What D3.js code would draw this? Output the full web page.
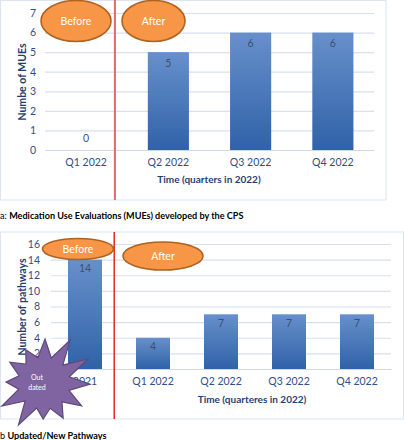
<!DOCTYPE html>
<html><head><meta charset="utf-8">
<script src="https://cdn.jsdelivr.net/npm/d3@7"></script>
<style>
html,body{margin:0;padding:0;background:#fff;}
svg{display:block;font-family:Lato,"Open Sans",sans-serif;}
</style></head>
<body><svg id="c" width="404" height="440"></svg>
<script>
// ---- data ----
const catsA = ["Q1 2022","Q2 2022","Q3 2022","Q4 2022"];
const valsA = [0,5,6,6];
const ticksA = [0,1,2,3,4,5,6,7];
const catsB = ["2021","Q1 2022","Q2 2022","Q3 2022","Q4 2022"];
const valsB = [14,4,7,7,7];
const ticksB = [0,2,4,6,8,10,12,14,16];
const captionA = ["a: ","Medication Use Evaluations (MUEs) developed by the CPS"];
const captionB = ["b ","Updated/New Pathways"];

const svg = d3.select("#c");
const defs = svg.append("defs");
const grad = defs.append("linearGradient").attr("id","barg").attr("x1",0).attr("y1",0).attr("x2",0).attr("y2",1);
grad.append("stop").attr("offset","0%").attr("stop-color","#6790cb");
grad.append("stop").attr("offset","100%").attr("stop-color","#3062a8");

const tickCol = "#2f4f86", titleCol = "#1f3f73", gridCol = "#d6e0ef", lblCol = "#3e4f6e";

function chart(o){
  const g = svg.append("g");
  g.append("rect").attr("x",o.panel[0]).attr("y",o.panel[1]).attr("width",o.panel[2]).attr("height",o.panel[3])
    .attr("fill","#fff").attr("stroke","#dbe4f1").attr("stroke-width",1);
  const x = d3.scaleBand().domain(o.cats).range(o.xr).paddingInner(0.5).paddingOuter(0.25);
  const y = d3.scaleLinear().domain([0,o.max]).range(o.yr);
  const ya = g.append("g").attr("transform",`translate(${o.xr[0]},0)`)
    .call(d3.axisLeft(y).tickValues(o.ticks).tickFormat(d3.format("d")).tickSize(-(o.xr[1]-o.xr[0])).tickPadding(o.tp));
  ya.select(".domain").remove();
  ya.selectAll("line").attr("stroke",gridCol).attr("stroke-width",1.2);
  ya.selectAll("text").attr("fill",tickCol).attr("font-size",10.5).attr("font-family","Lato,sans-serif");
  const xa = g.append("g").attr("transform",`translate(0,${o.yr[0]})`).call(d3.axisBottom(x).tickSize(0).tickPadding(9));
  xa.select(".domain").attr("stroke","#d0d8e6");
  xa.selectAll("text").attr("fill",tickCol).attr("font-size",10.5).attr("font-family","Lato,sans-serif");
  g.selectAll(".bar").data(o.vals).join("rect")
    .attr("x",(d,i)=>x(o.cats[i])).attr("width",x.bandwidth())
    .attr("y",d=>y(d)).attr("height",d=>y(0)-y(d)).attr("fill","url(#barg)");
  g.selectAll(".lbl").data(o.vals).join("text")
    .attr("x",(d,i)=>x(o.cats[i])+x.bandwidth()/2)
    .attr("y",d=> d===0 ? y(0)-12 : y(d)+o.lo)
    .attr("dy","0.35em").attr("text-anchor","middle").attr("font-size",10.5).attr("fill",lblCol).text(d=>d);
  g.append("text").attr("transform",`translate(${o.ytx},${o.yty}) rotate(-90)`).attr("text-anchor","middle")
    .attr("dy","0.35em").attr("font-size",o.yfs).attr("font-weight","bold").attr("fill",titleCol).text(o.ytitle);
  g.append("text").attr("x",o.xtx).attr("y",o.xty).attr("text-anchor","middle").attr("dy","0.35em")
    .attr("font-size",10).attr("font-weight","bold").attr("fill",titleCol).text(o.xtitle);
  return {g,x,y};
}

function ellipse(g,cx,cy,rx,ry,txt){
  g.append("ellipse").attr("cx",cx).attr("cy",cy).attr("rx",rx).attr("ry",ry)
    .attr("fill","#f79646").attr("stroke","#b0621e").attr("stroke-width",1.6);
  g.append("text").attr("x",cx).attr("y",cy).attr("dy","0.35em").attr("text-anchor","middle")
    .attr("font-size",10.5).attr("fill","#fff").text(txt);
}

// ---- chart a ----
const A = chart({panel:[0.5,0.5,385.5,199.5],cats:catsA,vals:valsA,ticks:ticksA,max:7,xr:[45,374],yr:[150,13],tp:9,lo:11,
  ytitle:"Numbe of MUEs",ytx:22,yty:82,yfs:10.5,xtitle:"Time (quarters in 2022)",xtx:209,xty:179});
const redA = A.x(catsA[0]) + A.x.bandwidth() + A.x.step()*0.1;
A.g.append("line").attr("x1",redA).attr("x2",redA).attr("y1",0).attr("y2",200).attr("stroke","#e06a6a").attr("stroke-width",2);
ellipse(A.g,76,21,35,20.5,"Before");
ellipse(A.g,153.5,21,31.5,20.5,"After");
svg.append("text").attr("x",0).attr("y",219).attr("font-size",9.1).attr("fill","#000")
  .call(t=>{t.append("tspan").text(captionA[0]);t.append("tspan").attr("font-weight","bold").text(captionA[1]);});

// ---- chart b ----
const B = chart({panel:[0.5,232,403,187],cats:catsB,vals:valsB,ticks:ticksB,max:16,xr:[51,391],yr:[369,244],tp:11,lo:9,
  ytitle:"Number of pathways",ytx:22,yty:307,yfs:10.5,xtitle:"Time (quarteres in 2022)",xtx:252,xty:399});
const redB = B.x(catsB[0]) + B.x.bandwidth() + B.x.step()*0.18;
B.g.append("line").attr("x1",redB).attr("x2",redB).attr("y1",232).attr("y2",419).attr("stroke","#e02a2a").attr("stroke-width",1.5);
ellipse(B.g,78,249,35.5,10.5,"Before");
ellipse(B.g,163,256,40,14,"After");
// star
const sc=[44,383], n=12, pts=[];
const outerR=[38,44,50,50,46,44,40,36,49,48,38,40];
for(let i=0;i<2*n;i++){
  const a = -Math.PI/2 - 0.5 + i*Math.PI/n;
  const r = i%2===0 ? outerR[i/2] : 26;
  pts.push([sc[0]+r*Math.cos(a), sc[1]+r*Math.sin(a)]);
}
B.g.append("path").attr("d",d3.line()(pts)+"Z").attr("fill","#8064a2").attr("stroke","#5e4a7a").attr("stroke-width",1.2);
B.g.append("text").attr("x",37).attr("y",378).attr("dy","0.35em").attr("text-anchor","middle").attr("font-size",7).attr("fill","#fff").text("Out");
B.g.append("text").attr("x",37).attr("y",388).attr("dy","0.35em").attr("text-anchor","middle").attr("font-size",7).attr("fill","#fff").text("dated");
svg.append("text").attr("x",0).attr("y",439).attr("font-size",9.1).attr("fill","#000")
  .call(t=>{t.append("tspan").text(captionB[0]);t.append("tspan").attr("font-weight","bold").text(captionB[1]);});
</script></body></html>
